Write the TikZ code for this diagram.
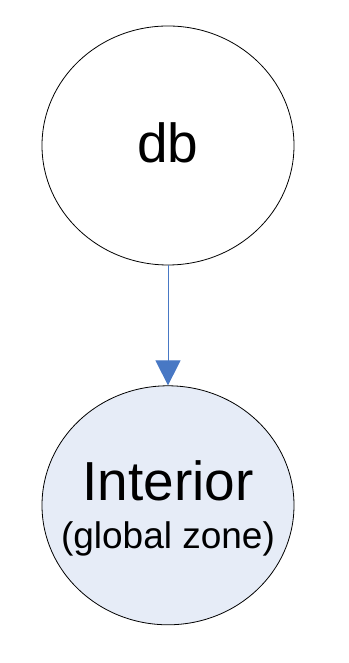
\documentclass[tikz,border=0pt]{standalone}
\usepackage{fontspec}
\setmainfont{Liberation Sans}
\usetikzlibrary{arrows.meta,positioning,shapes.geometric}
\definecolor{linkblue}{RGB}{72,120,196}
\definecolor{zonefill}{RGB}{230,236,247}
\tikzset{
  zone/.style={ellipse, draw=black, line width=0.8pt, minimum width=252pt, minimum height=239pt, inner sep=0pt, fill=white},
  gzone/.style={zone, fill=zonefill},
  title/.style={anchor=base, inner sep=0pt, font=\fontsize{55}{60}\selectfont},
  note/.style={anchor=base, inner sep=0pt, font=\fontsize{37}{42}\selectfont},
  link/.style={-{Triangle[length=25pt, width=25pt]}, line width=1pt, draw=linkblue, fill=linkblue}
}

\begin{document}
\begin{tikzpicture}[node distance=120pt]
  \useasboundingbox (0,0) rectangle (348pt,663pt);
  \node[zone] (db) at (168pt,517.5pt) {};
  \node[gzone, below=of db] (interior) {};

  % labels inside the two zones
  \node[title] (dbname) at ([yshift=-17.5pt]db.center) {db};
  \node[title] (intname) at ([yshift=4.5pt]interior.center) {Interior};
  \node[note] (intnote) at ([yshift=-43.5pt]interior.center) {(global zone)};

  \draw[link] (db) -- (interior);
\end{tikzpicture}
\end{document}
